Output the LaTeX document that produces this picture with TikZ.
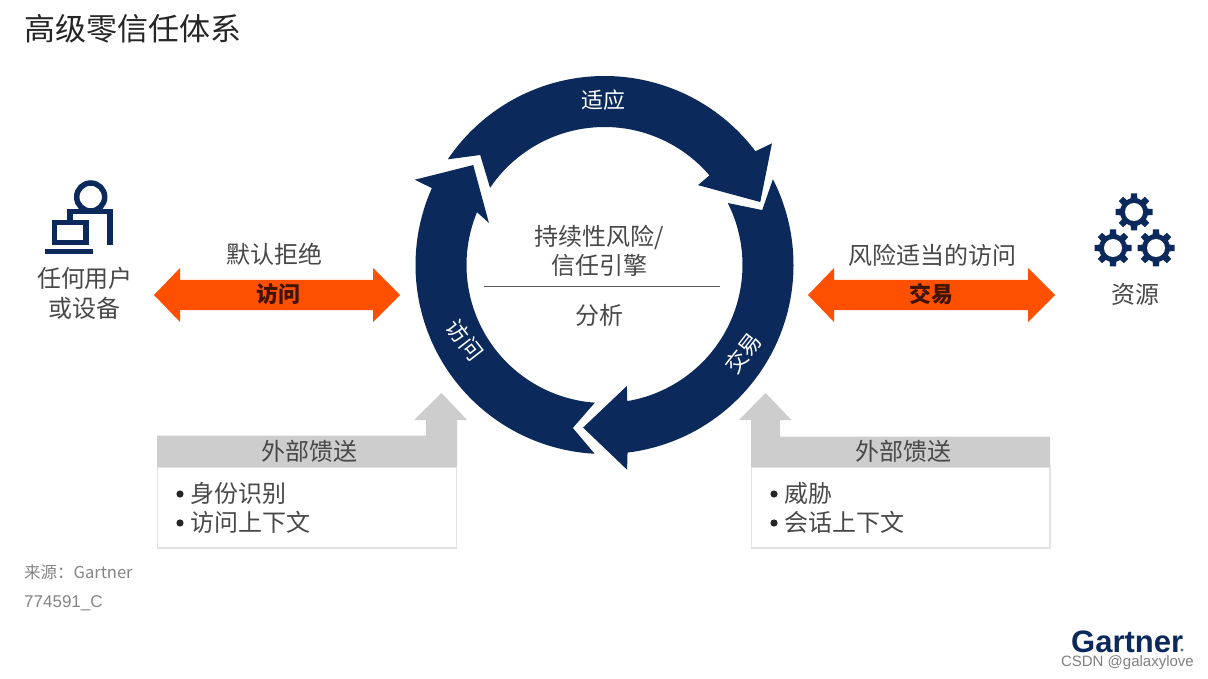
\documentclass[tikz,border=0pt]{standalone}
\usepackage{fontspec}
\setmainfont{Liberation Sans}
\newfontfamily\cjk{Noto Sans CJK SC}
\definecolor{navy}{HTML}{0B2A5B}
\definecolor{orangeb}{HTML}{FE5000}
\definecolor{greyb}{HTML}{CDCDCD}
\definecolor{txt}{HTML}{484848}
\definecolor{srcgrey}{HTML}{858585}
\tikzset{
  lab/.style={inner sep=0pt,text=txt,font=\cjk\fontsize{24}{24}\selectfont},
  ring/.style={fill=navy,draw=none},
  flow/.style={fill=orangeb,draw=none},
  feed/.style={fill=greyb,draw=none},
  panel/.style={fill=white,draw=black!11,line width=1.5pt},
  ringlab/.style={inner sep=0pt,text=white,font=\cjk\fontsize{22}{22}\selectfont},
  flowlab/.style={inner sep=0pt,text=black!75!orangeb,font=\cjk\bfseries\fontsize{22}{22}\selectfont},
  icon/.style={draw=navy,line width=5.5pt,line cap=butt,line join=miter},
  gearpic/.pic={
    \fill[navy] (0,0) circle[radius=14pt];
    \foreach \a in {0,45,...,315}{
      \fill[navy,rotate=\a] (-3.6pt,10pt) -- (-3pt,18.5pt) -- (3pt,18.5pt) -- (3.6pt,10pt) -- cycle;
    }
    \fill[white] (0,0) circle[radius=9pt];
  },
  bulletdot/.style={fill=black!85,draw=none}
}
\begin{document}
\begin{tikzpicture}[x=1pt,y=-1pt]
\useasboundingbox (0,0) rectangle (1208,679);
\fill[white] (0,0) rectangle (1208,679);

\node[lab,anchor=west,text=black!85,font=\cjk\fontsize{31}{31}\selectfont] (title) at (24,29) {高级零信任体系};

% ring
\begin{scope}[shift={(604.5,265)},y=1pt]
  \fill[ring] (146:189) arc[start angle=146,end angle=37,radius=189pt] -- (36:207) -- (22:168) -- (40.5:123) -- (40.5:138) arc[start angle=40.5,end angle=146,radius=138pt] -- (138.5:166) -- cycle;
  \fill[ring] (27:189) arc[start angle=27,end angle=-83,radius=189pt] -- (-83.7:206) -- (-97.5:164) -- (-79.5:123) -- (-80.5:138) arc[start angle=-80.5,end angle=26.7,radius=138pt] -- (19.2:167) -- cycle;
  \fill[ring] (267:189) arc[start angle=267,end angle=156,radius=189pt] -- (155.8:208) -- (142.7:165) -- (160:123) -- (157.5:138) arc[start angle=157.5,end angle=266,radius=138pt] -- (259:166) -- cycle;
\end{scope}
\node[ringlab] (adapt) at (603,100) {适应};
\node[ringlab,rotate=52] (trade) at (743,353) {交易};
\node[ringlab,rotate=-52] (access) at (465,340) {访问};

% centre
\node[lab] (c1) at (599,237) {持续性风险/};
\node[lab] (c2) at (599,265) {信任引擎};
\coordinate (cl) at (484,287);
\coordinate (cr) at (720,287);
\draw[black!65,line width=1pt] (cl) -- (cr);
\node[lab] (c3) at (599,315) {分析};

% orange arrows
\fill[flow] (154,295) -- (180,268) -- (180,280) -- (373,280) -- (373,268) -- (400,295) -- (373,322) -- (373,310) -- (180,310) -- (180,322) -- cycle;
\fill[flow] (808,295) -- (834,268) -- (834,280) -- (1028,280) -- (1028,268) -- (1055,295) -- (1028,322) -- (1028,310) -- (834,310) -- (834,322) -- cycle;
\node[lab] (deny) at (274,254) {默认拒绝};
\node[flowlab] (fa) at (278,294) {访问};
\node[lab] (risk) at (932,255) {风险适当的访问};
\node[flowlab] (ft) at (931,294) {交易};

% user icon
\draw[icon] (90.7,197) circle[radius=14pt];
\draw[icon] (70,220) -- (70,211.5) -- (110,211.5) -- (110,245);
\draw[icon,fill=white] (54.5,222.5) rectangle (86,242.5);
\fill[navy] (45,249) rectangle (93,254.5);
\node[lab] (u1) at (85,278) {任何用户};
\node[lab] (u2) at (84,308) {或设备};

% gears
\pic at (1134,212) {gearpic};
\pic at (1113,248) {gearpic};
\pic at (1156,248) {gearpic};
\node[lab] (res) at (1135,294) {资源};

% left feedback
\draw[panel] (157.5,467) rectangle (456.5,548);
\fill[feed] (157,435.5) -- (426,435.5) -- (426,420) -- (414,420) -- (441.5,393) -- (467,420) -- (457,420) -- (457,467) -- (157,467) -- cycle;
\node[lab] (f1) at (309,451) {外部馈送};
\fill[bulletdot] (180,494) circle[radius=3.6pt];
\fill[bulletdot] (180,523) circle[radius=3.6pt];
\node[lab,anchor=west] (f1a) at (190,493) {身份识别};
\node[lab,anchor=west] (f1b) at (190,522) {访问上下文};

% right feedback
\draw[panel] (751.5,467) rectangle (1050,548);
\fill[feed] (751,467) -- (751,420) -- (739,420) -- (765.5,393) -- (791.5,420) -- (780,420) -- (780,436.5) -- (1050,436.5) -- (1050,467) -- cycle;
\node[lab] (f2) at (903,451) {外部馈送};
\fill[bulletdot] (774,494) circle[radius=3.6pt];
\fill[bulletdot] (774,523) circle[radius=3.6pt];
\node[lab,anchor=west] (f2a) at (784,493) {威胁};
\node[lab,anchor=west] (f2b) at (784,522) {会话上下文};

% source
\node[inner sep=0pt,anchor=west,text=srcgrey,font=\cjk\fontsize{16.5}{16.5}\selectfont] (src) at (24,572) {来源：Gartner};
\node[inner sep=0pt,anchor=west,text=srcgrey,font=\fontsize{17}{17}\selectfont] (num) at (24,603) {774591\_C};

% logo
\node[inner sep=0pt,anchor=base west,text=navy,font=\bfseries\fontsize{31}{31}\selectfont] (logo) at (1071,652) {Gartner};
\fill[navy!70] (1182,650) circle[radius=1.6pt];
\node[inner sep=0pt,anchor=base east,text=black!50,font=\fontsize{15}{15}\selectfont] (wm) at (1194,666) {CSDN @galaxylove};
\end{tikzpicture}
\end{document}
